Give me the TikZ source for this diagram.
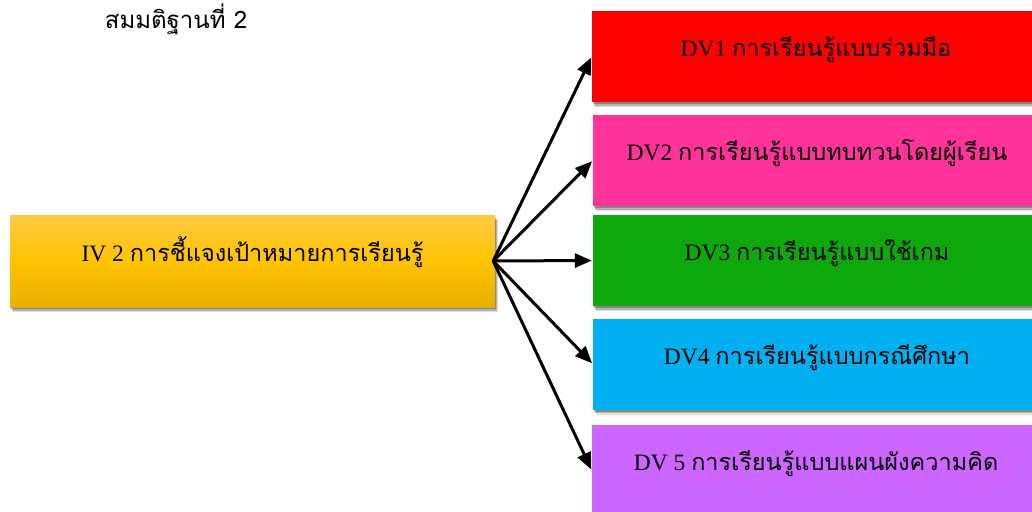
\documentclass[tikz,border=0pt]{standalone}
\usepackage{fontspec}
\setmainfont{Liberation Serif}
\newfontfamily\thaifont[Script=Thai]{Loma}
\usetikzlibrary{shadows,arrows.meta}

% Latin prefix in the serif face, Thai remainder in the Thai face
\newcommand\boxlabel[2]{#1 {\thaifont #2}}

\definecolor{cRed}{HTML}{FF0000}
\definecolor{cPink}{HTML}{FF3399}
\definecolor{cGreen}{HTML}{0CA80C}
\definecolor{cBlue}{HTML}{00B0F0}
\definecolor{cPurple}{HTML}{CC66FF}
\definecolor{cGoldTop}{HTML}{FFCB45}
\definecolor{cGoldMid}{HTML}{FFC300}
\definecolor{cGoldBot}{HTML}{E6B000}

\tikzset{
  panel/.style={rectangle, inner sep=0pt, minimum height=91pt,
    drop shadow={shadow xshift=2.5pt, shadow yshift=-5pt, opacity=0.12, fill=black},
    drop shadow={shadow xshift=1.5pt, shadow yshift=-3.5pt, opacity=0.2, fill=black},
    drop shadow={shadow xshift=0.8pt, shadow yshift=-2pt, opacity=0.25, fill=black}},
  srcpanel/.style={panel, minimum width=485pt, minimum height=92pt,
    top color=cGoldTop, bottom color=cGoldBot, middle color=cGoldMid},
  dvpanel/.style={panel, minimum width=448pt},
  boxtext/.style={anchor=base, inner sep=0pt, font=\fontsize{23.5}{27}\selectfont},
  link/.style={line width=3pt, -{Triangle[length=17pt,width=14pt]}, shorten >=1pt}
}

\begin{document}
\begin{tikzpicture}[x=1pt,y=-1pt]
  \useasboundingbox (0,0) rectangle (1032,511);
  \clip (0,0) rectangle (1032,511);

  % heading
  \node[font=\thaifont\fontsize{24}{28}\selectfont, anchor=base] (title) at (176,28.5) {สมมติฐานที่ 2};

  % independent variable
  \node[srcpanel] (iv) at (252.5,261) {};
  \node[boxtext] (ivt) at (iv.center) {\boxlabel{IV 2}{การชี้แจงเป้าหมายการเรียนรู้}};

  % dependent variables
  \node[dvpanel, fill=cRed]    (dv1) at (816,56.5) {};
  \node[dvpanel, fill=cPink]   (dv2) at (817,160.5) {};
  \node[dvpanel, fill=cGreen]  (dv3) at (817,260.5) {};
  \node[dvpanel, fill=cBlue]   (dv4) at (817,364) {};
  \node[dvpanel, fill=cPurple] (dv5) at (816,470.5) {};

  \node[boxtext] (dv1t) at (dv1.center) {\boxlabel{DV1}{การเรียนรู้แบบร่วมมือ}};
  \node[boxtext] (dv2t) at (dv2.center) {\boxlabel{DV2}{การเรียนรู้แบบทบทวนโดยผู้เรียน}};
  \node[boxtext] (dv3t) at (dv3.center) {\boxlabel{DV3}{การเรียนรู้แบบใช้เกม}};
  \node[boxtext] (dv4t) at (dv4.center) {\boxlabel{DV4}{การเรียนรู้แบบกรณีศึกษา}};
  \node[boxtext] (dv5t) at (dv5.center) {\boxlabel{DV 5}{การเรียนรู้แบบแผนผังความคิด}};

  % connectors
  \foreach \d in {dv1,dv2,dv3,dv4,dv5}
    \draw[link] ([xshift=-2pt]iv.east) -- (\d.west);
\end{tikzpicture}
\end{document}
